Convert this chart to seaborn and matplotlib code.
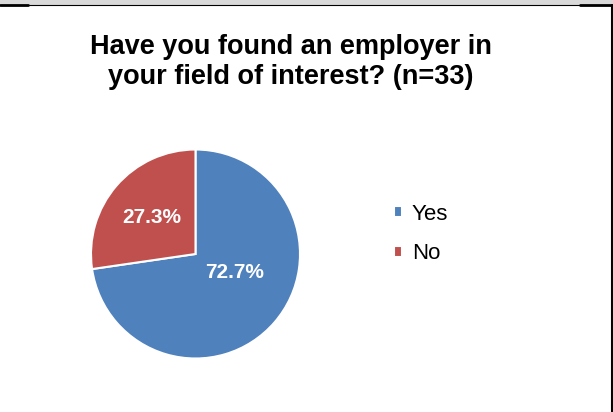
import matplotlib
matplotlib.use("Agg")
import matplotlib.pyplot as plt
import seaborn as sns

# Survey answers
answers = ["Yes", "No"]
shares = [72.7, 27.3]
colors = ["#4F81BD", "#C0504D"]

sns.set_theme(style="white")
plt.rcParams['font.family'] = ['Liberation Sans', 'DejaVu Sans']

fig = plt.figure(figsize=(6.13, 4.12), dpi=100)
# pie area: centre ~ (195.5, 254) px, radius ~104.5 px
ax = fig.add_axes([91 / 613, 1 - 358.5 / 412, 209 / 613, 209 / 412])

wedges, texts, autotexts = ax.pie(
    shares, colors=colors, startangle=90, counterclock=False,
    autopct="%.1f%%", pctdistance=0.5,
    wedgeprops=dict(edgecolor="white", linewidth=1.5),
    textprops=dict(color="white", fontsize=15, fontweight="bold"),
)
ax.set_xlim(-1, 1)
ax.set_ylim(-1, 1)
ax.set_aspect("equal")
# move labels roughly where the original puts them
autotexts[0].set_position((0.37, -0.18))
autotexts[1].set_position((-0.42, 0.35))
for t in autotexts:
    t.set_ha("center")
    t.set_va("center")

fig.text(0.475, 1 - 62 / 412, "Have you found an employer in\nyour field of interest? (n=33)",
         ha="center", va="center", fontsize=19.5, fontweight="bold",
         linespacing=1.15, color="black")

leg = fig.legend(wedges, answers, loc="center left", bbox_to_anchor=(394 / 613, 1 - 234 / 412),
                 frameon=False, fontsize=16, handlelength=0.35, handleheight=0.4,
                 handletextpad=0.45, labelspacing=0.85, borderpad=0, borderaxespad=0)
for t in leg.get_texts():
    t.set_color("black")

# grey top band and frame lines
fig.patches.append(plt.Rectangle((0, 1 - 4 / 412), 1, 4 / 412, transform=fig.transFigure,
                                 color="#D9D9D9", zorder=0))
fig.lines.append(plt.Line2D([0, 1], [1 - 5 / 412] * 2, transform=fig.transFigure,
                            color="black", linewidth=0.8))
fig.lines.append(plt.Line2D([0, 28 / 613], [1 - 5 / 412] * 2, transform=fig.transFigure,
                            color="black", linewidth=2))
fig.lines.append(plt.Line2D([580 / 613, 1], [1 - 5 / 412] * 2, transform=fig.transFigure,
                            color="black", linewidth=2))
fig.lines.append(plt.Line2D([611.5 / 613] * 2, [0, 1 - 5 / 412], transform=fig.transFigure,
                            color="black", linewidth=1.5))

fig.savefig("out.png", dpi=100, facecolor="white")
